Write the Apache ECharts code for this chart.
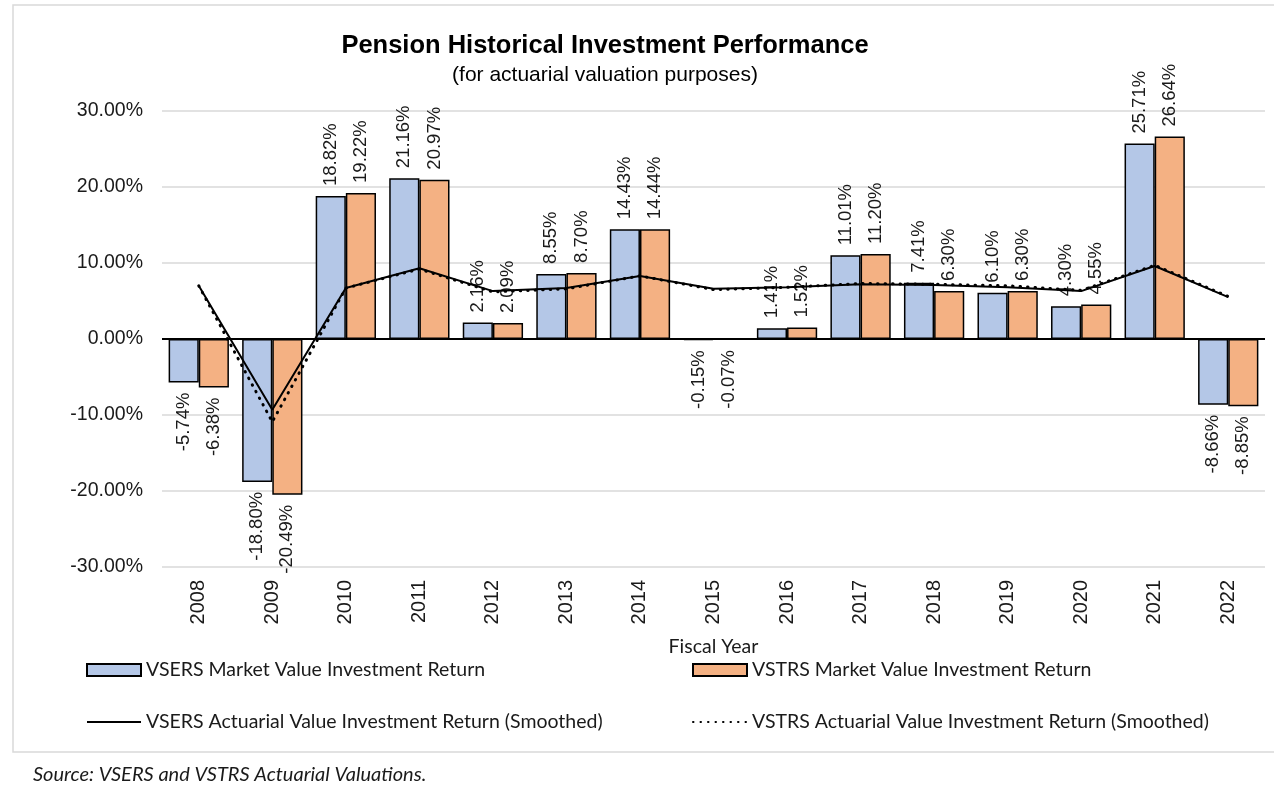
<!DOCTYPE html>
<html>
<head>
<meta charset="utf-8">
<title>Pension Historical Investment Performance</title>
<script src="https://cdn.jsdelivr.net/npm/echarts@6/dist/echarts.min.js"></script>
<style>
  html, body { margin: 0; padding: 0; background: #fff; }
  #chart { width: 1274px; height: 786px; }
</style>
</head>
<body>
<div id="chart"></div>
<script>
var years = ['2008', '2009', '2010', '2011', '2012', '2013', '2014', '2015', '2016', '2017', '2018', '2019', '2020', '2021', '2022'];
var vsersMarket = [-5.74, -18.80, 18.82, 21.16, 2.16, 8.55, 14.43, -0.15, 1.41, 11.01, 7.41, 6.10, 4.30, 25.71, -8.66];
var vstrsMarket = [-6.38, -20.49, 19.22, 20.97, 2.09, 8.70, 14.44, -0.07, 1.52, 11.20, 6.30, 6.30, 4.55, 26.64, -8.85];
var vsersActuarial = [7.0, -9.3, 6.7, 9.3, 6.3, 6.7, 8.3, 6.6, 6.8, 7.2, 7.1, 6.8, 6.3, 9.6, 5.5];
var vstrsActuarial = [7.0, -10.9, 6.7, 9.2, 6.2, 6.6, 8.3, 6.5, 6.8, 7.3, 7.2, 7.0, 6.4, 9.7, 5.6];

var names = [
  'VSERS Market Value Investment Return',
  'VSTRS Market Value Investment Return',
  'VSERS Actuarial Value Investment Return (Smoothed)',
  'VSTRS Actuarial Value Investment Return (Smoothed)'
];

var chart = echarts.init(document.getElementById('chart'));

var labelFont = 'Liberation Sans, Arial, sans-serif';
var legendFont = 'Lato, sans-serif';

function barData(values) {
  return values.map(function(v) {
    return {
      value: v,
      label: v < 0 ? { position: 'bottom', align: 'right' } : { position: 'top', align: 'left' }
    };
  });
}

var barLabel = {
  show: true,
  rotate: 90,
  distance: 10,
  verticalAlign: 'middle',
  fontFamily: labelFont,
  fontSize: 18.5,
  color: '#1a1a1a',
  formatter: function(p) {
    return p.value.toFixed(2) + '%';
  }
};

function legendAt(name, left, top, isLine) {
  var lg = {
    data: [isLine ? name : { name: name, icon: 'rect' }],
    left: left,
    top: top,
    itemWidth: 54,
    itemHeight: 12,
    selectedMode: false,
    textStyle: { fontFamily: legendFont, fontSize: 19.5, color: '#1a1a1a' }
  };
  if (isLine) {
    lg.itemStyle = { opacity: 0 };
  }
  return lg;
}

var option = {
  animation: false,
  backgroundColor: '#fff',
  title: [{
    text: 'Pension Historical Investment Performance',
    left: 600,
    top: 28,
    textAlign: 'center',
    textStyle: { fontFamily: labelFont, fontSize: 25.5, fontWeight: 'bold', color: '#000' }
  }, {
    text: '(for actuarial valuation purposes)',
    left: 600,
    top: 60,
    textAlign: 'center',
    textStyle: { fontFamily: labelFont, fontSize: 21, fontWeight: 'normal', color: '#000' }
  }],
  legend: [
    legendAt(names[0], 81, 655, false),
    legendAt(names[1], 687, 655, false),
    legendAt(names[2], 81, 707, true),
    legendAt(names[3], 687, 707, true)
  ],
  grid: { left: 162, right: 9, top: 111, bottom: 219 },
  xAxis: {
    type: 'category',
    data: years,
    name: 'Fiscal Year',
    nameLocation: 'middle',
    nameGap: 70,
    nameTextStyle: { fontFamily: legendFont, fontSize: 19.5, color: '#1a1a1a' },
    axisLine: { show: false, onZero: false },
    axisTick: { show: false },
    axisLabel: { rotate: 90, margin: 13, fontFamily: labelFont, fontSize: 20, color: '#1a1a1a' }
  },
  yAxis: {
    type: 'value',
    min: -30,
    max: 30,
    interval: 10,
    axisLine: { show: false },
    axisTick: { show: false },
    axisLabel: {
      margin: 19,
      fontFamily: labelFont,
      fontSize: 19.5,
      color: '#1a1a1a',
      formatter: function(v) { return v.toFixed(2) + '%'; }
    },
    splitLine: { lineStyle: { color: '#d9d9d9', width: 1.5 } }
  },
  graphic: [{
    type: 'rect',
    shape: { x: 13, y: 5, width: 1300, height: 747 },
    style: { fill: 'none', stroke: '#d9d9d9', lineWidth: 1.5 },
    silent: true,
    z: -10
  }, {
    type: 'text',
    left: 33,
    top: 765,
    style: {
      text: 'Source: VSERS and VSTRS Actuarial Valuations.',
      font: 'italic 20px Lato, sans-serif',
      fill: '#1a1a1a'
    }
  }],
  series: [{
    name: names[0],
    type: 'bar',
    data: barData(vsersMarket),
    barGap: '0%',
    barCategoryGap: '18%',
    itemStyle: { color: '#b4c7e7', borderColor: '#000', borderWidth: 1.5 },
    label: barLabel,
    markLine: {
      silent: true,
      symbol: 'none',
      label: { show: false },
      lineStyle: { color: '#000', width: 2, type: 'solid' },
      data: [{ yAxis: 0 }]
    }
  }, {
    name: names[1],
    type: 'bar',
    data: barData(vstrsMarket),
    itemStyle: { color: '#f4b183', borderColor: '#000', borderWidth: 1.5 },
    label: barLabel
  }, {
    name: names[2],
    type: 'line',
    data: vsersActuarial,
    symbol: 'none',
    lineStyle: { color: '#000', width: 2 },
    itemStyle: { color: '#000' },
    z: 5
  }, {
    name: names[3],
    type: 'line',
    data: vstrsActuarial,
    symbol: 'none',
    lineStyle: { color: '#000', width: 3, type: [0.5, 7], cap: 'round' },
    itemStyle: { color: '#000' },
    z: 6
  }]
};

chart.setOption(option);
</script>
</body>
</html>
